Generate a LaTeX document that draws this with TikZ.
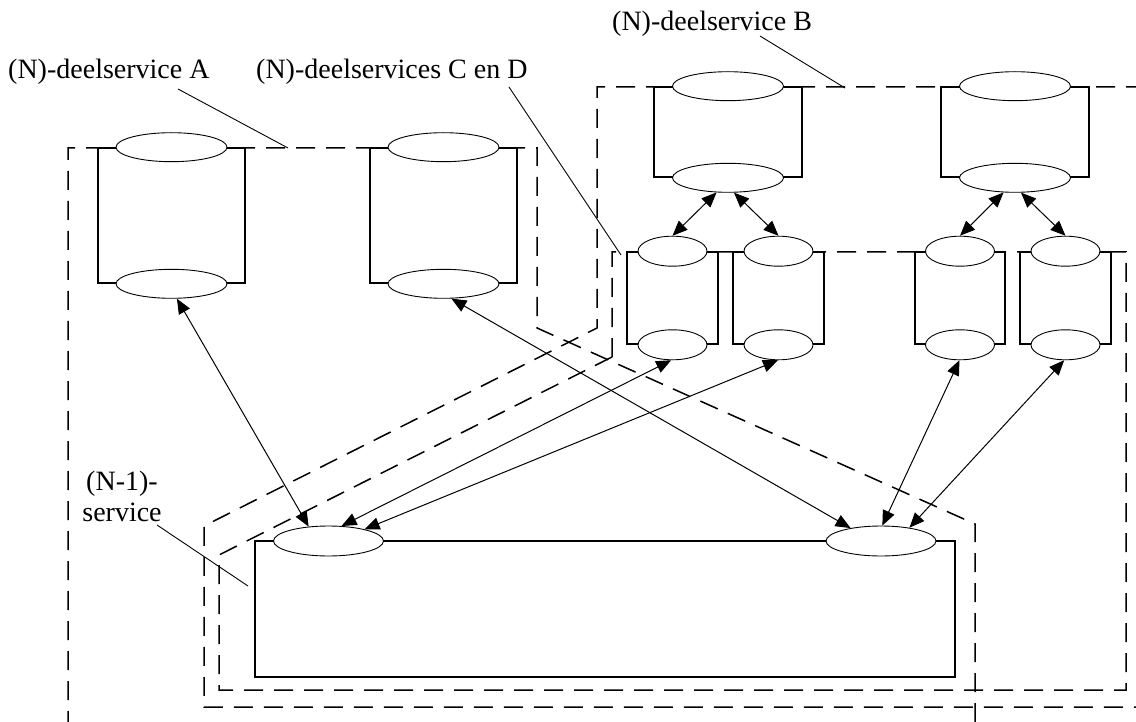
\documentclass[tikz,border=0pt]{standalone}
\usepackage{fontspec}
\setmainfont{Liberation Serif}
\usetikzlibrary{shapes.geometric,arrows.meta}
\begin{document}
\begin{tikzpicture}[x=1pt,y=-1pt,
  outline/.style={line width=1.5pt, dash pattern=on 19pt off 11pt},
  cylbox/.style={draw, rectangle, line width=1.6pt, inner sep=0pt},
  lid/.style={ellipse, draw, fill=white, line width=0.9pt, inner sep=0pt},
  biglid/.style={lid, minimum width=111pt, minimum height=29pt},
  smalllid/.style={lid, minimum width=69pt, minimum height=30pt},
  link/.style={line width=1pt, {Triangle[length=15pt,width=12.5pt]}-{Triangle[length=15pt,width=12.5pt]}},
  leader/.style={line width=0.9pt},
  lbl/.style={font=\fontsize{28pt}{31pt}\selectfont, inner sep=0pt}
]
\useasboundingbox (0,0) rectangle (1136,722);
\clip (0,0) rectangle (1136,722);
\fill[white] (0,0) rectangle (1136,722);

% dashed outlines
\draw[outline] (68,730) -- (68,148) -- (537,148) -- (537,328) -- (975,524) -- (975,730);
\draw[outline] (1145,87) -- (597,87) -- (597,328) -- (204,526) -- (204,707) -- (1145,707);
\draw[outline] (612,357) -- (612,252) -- (1126,252) -- (1126,690) -- (219,690) -- (219,555) -- cycle;

% boxes
\node[cylbox, minimum width=147pt, minimum height=135pt] (A1) at (171.5,215.5) {};
\node[cylbox, minimum width=147pt, minimum height=135pt] (A2) at (443.5,215.5) {};
\node[cylbox, minimum width=148pt, minimum height=90pt] (B1) at (728,132) {};
\node[cylbox, minimum width=148pt, minimum height=90pt] (B2) at (1015,132) {};
\node[cylbox, minimum width=91pt, minimum height=92pt] (C1) at (672.5,298) {};
\node[cylbox, minimum width=91pt, minimum height=92pt] (C2) at (778.5,298) {};
\node[cylbox, minimum width=90pt, minimum height=92pt] (C3) at (960,298) {};
\node[cylbox, minimum width=91pt, minimum height=92pt] (C4) at (1065.5,298) {};
\node[cylbox, minimum width=700pt, minimum height=136pt] (N) at (605,609) {};

% lids
\node[biglid] (A1t) at (A1.north) {};
\node[biglid] (A1b) at (A1.south) {};
\node[biglid] (A2t) at (A2.north) {};
\node[biglid] (A2b) at (A2.south) {};
\node[biglid] (B1t) at (B1.north) {};
\node[biglid] (B1b) at (B1.south) {};
\node[biglid] (B2t) at (B2.north) {};
\node[biglid] (B2b) at (B2.south) {};
\node[smalllid] (C1t) at (C1.north) {};
\node[smalllid] (C1b) at (C1.south) {};
\node[smalllid] (C2t) at (C2.north) {};
\node[smalllid] (C2b) at (C2.south) {};
\node[smalllid] (C3t) at (C3.north) {};
\node[smalllid] (C3b) at (C3.south) {};
\node[smalllid] (C4t) at (C4.north) {};
\node[smalllid] (C4b) at (C4.south) {};
\node[lid, minimum width=110pt, minimum height=30pt] (L) at (328.5,541) {};
\node[lid, minimum width=110pt, minimum height=30pt] (R) at (881,541) {};

% connectors
\draw[link] (A1b.-70) -- (L.144);
\draw[link] (A2b.-62) -- (R.157);
\draw[link] (C1b.-95) -- (L.49);
\draw[link] (C2b.-92) -- (L.18);
\draw[link] (C3b.-92) -- (R.85);
\draw[link] (C4b.-95) -- (R.25);
\draw[link] (B1b.-128) -- (C1t.north);
\draw[link] (B1b.-68) -- (C2t.north);
\draw[link] (B2b.-128) -- (C3t.north);
\draw[link] (B2b.-68) -- (C4t.north);

% labels
\node[lbl, anchor=base west] (tA) at (8,79) {(N)-deelservice A};
\node[lbl, anchor=base west] (tCD) at (256,79) {(N)-deelservices C en D};
\node[lbl, anchor=base west] (tB) at (612,31) {(N)-deelservice B};
\node[lbl, align=center] (tN) at (122,496) {(N-1)-\\service};

% leaders
\coordinate (la1) at (178,89);
\coordinate (la2) at (288,148);
\coordinate (lcd1) at (509,87);
\coordinate (lcd2) at (621,255);
\coordinate (lb1) at (760,36);
\coordinate (lb2) at (845,88);
\coordinate (ln1) at (157,525);
\coordinate (ln2) at (248,586);
\draw[leader] (la1) -- (la2);
\draw[leader] (lcd1) -- (lcd2);
\draw[leader] (lb1) -- (lb2);
\draw[leader] (ln1) -- (ln2);
\end{tikzpicture}
\end{document}
